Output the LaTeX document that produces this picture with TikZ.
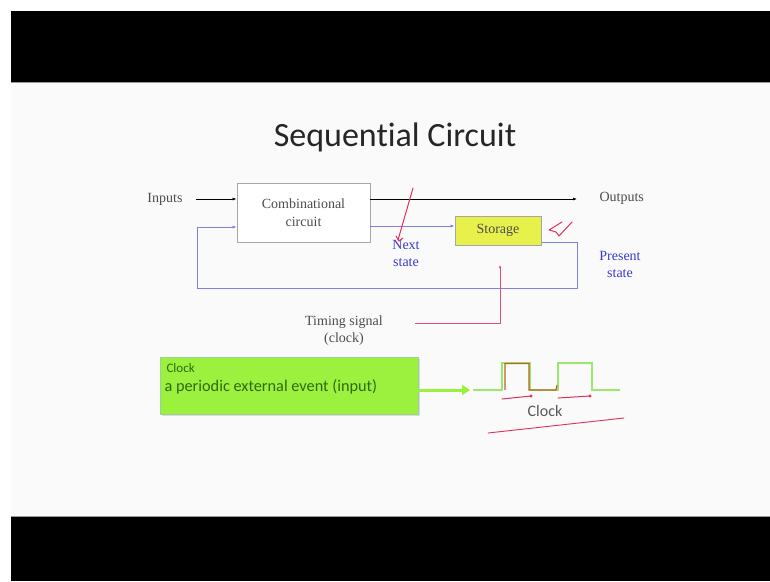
\documentclass[tikz,border=0pt]{standalone}
\usepackage{fontspec}
\setmainfont{Liberation Serif}
\newfontfamily\slidefont[Ligatures=NoCommon]{Carlito}
\usetikzlibrary{arrows.meta,shadows}
\definecolor{slidebg}{HTML}{FAFAFA}
\definecolor{loopblue}{HTML}{7F7FE0}
\definecolor{labelblue}{HTML}{3A3AD0}
\definecolor{penred}{HTML}{E0305A}
\definecolor{storefill}{HTML}{E8F04C}
\definecolor{clockgreen}{HTML}{9CF03E}
\definecolor{wavegreen}{HTML}{9BE86A}
\definecolor{textgreen}{HTML}{2E6B10}
\definecolor{brownpen}{HTML}{B8642A}
\tikzset{
  blk/.style={draw=gray!70, line width=0.8pt, minimum width=133pt, minimum height=59pt,
    fill=white, align=center, font=\fontsize{14}{18}\selectfont, text=black!70},
  storebox/.style={draw=gray!70, line width=1pt, fill=storefill, minimum width=86pt,
    minimum height=29pt, font=\fontsize{14}{16}\selectfont, text=black!70},
  lbl/.style={font=\fontsize{14}{17}\selectfont, text=black!70, align=center},
  bluelbl/.style={font=\fontsize{14}{17}\selectfont, text=labelblue, align=center},
  sig/.style={line width=0.7pt, -{Latex[length=4pt,width=3pt]}},
  loopline/.style={loopblue, line width=1pt},
  pen/.style={penred, line width=1pt, line cap=round, line join=round},
}
\begin{document}
\begin{tikzpicture}[x=1pt,y=-1pt]
\useasboundingbox (0,0) rectangle (770,581);
% frame of the video still
\fill[white] (0,0) rectangle (770,581);
\fill[slidebg] (11,82) rectangle (770,516);
\fill[black] (11,11) rectangle (770,82);
\fill[black] (11,516) rectangle (770,581);
\draw[gray!80, line width=0.8pt] (11,82) -- (770,82);
\draw[gray!80, line width=0.8pt] (11,516) -- (770,516);

% title
\node[font=\slidefont\fontsize{34}{40}\selectfont, text=black!85] (title) at (395,137) {Sequential Circuit};

% blocks
\node[blk] (comb) at (303.5,212.5) {Combinational\\circuit};
\node[storebox] (store) at (498,230.5) {Storage};

% inputs and outputs
\node[lbl, anchor=east] (inp) at (186,199) {Inputs};
\node[lbl, anchor=west] (outp) at (596,198) {Outputs};
\coordinate (inStart) at (196,199);
\coordinate (outEnd) at (577,199);
\draw[sig] (inStart) -- (comb.west |- inStart);
\draw[sig] (comb.east |- outEnd) -- (outEnd);

% next state into storage
\draw[loopline, sig] (comb.east |- 0,226) -- (store.west |- 0,226);
\node[bluelbl] (next) at (406,253) {Next\\state};

% present state fed back
\coordinate (fbR) at (577,242);
\coordinate (fbBR) at (577,288);
\coordinate (fbBL) at (197,288);
\coordinate (fbTL) at (197,227);
\draw[loopline] (store.east |- fbR) -- (fbR) -- (fbBR) -- (fbBL) -- (fbTL);
\draw[loopline, sig] (fbTL) -- (comb.west |- fbTL);
\node[bluelbl] (pres) at (620,264) {Present\\state};

% timing signal
\node[lbl] (timing) at (344,331) {Timing signal\\(clock)};
\coordinate (tA) at (415,323);
\coordinate (tB) at (500,323);
\coordinate (tC) at (500,265);
\draw[penred!85, line width=0.9pt, -{Latex[length=3pt,width=2.5pt]}] (tA) -- (tB) -- (tC);

% clock box
\node[draw=green!55!black!40, fill=clockgreen, minimum width=258pt, minimum height=57pt,
      drop shadow={opacity=0.25, shadow xshift=1.5pt, shadow yshift=-1.5pt}] (clk) at (289,385.5) {};
\node[anchor=west, font=\slidefont\fontsize{13}{15}\selectfont, text=textgreen] (clkT) at (163,368) {Clock};
\node[anchor=west, font=\slidefont\fontsize{16.3}{19}\selectfont, text=textgreen] (clkD) at (161,387) {a periodic external event (input)};
\coordinate (gArr) at (470,390);
\draw[clockgreen, line width=3pt, -{Triangle[length=8pt,width=10pt]}] (clk.east |- gArr) -- (gArr);

% clock waveform
\draw[wavegreen, line width=2pt] (473,390) -- (502,390) -- (502,363) -- (530,363) -- (530,390)
   -- (558,390) -- (558,363) -- (592,363) -- (592,390) -- (620,390);
\draw[brownpen, line width=1.2pt] (505,390) -- (505,363.5) -- (529,363.5) -- (529,390) -- (556,390) -- (557,385);
\node[font=\slidefont\fontsize{16}{18}\selectfont, text=black!65] (clkLbl) at (545,411) {Clock};

% pen annotations
\draw[pen] (413,188) -- (398,240);
\draw[pen] (396,236) -- (399,241) -- (403,238);
\draw[pen] (562,222) -- (549,230) -- (556,232) -- (559,236) -- (572,222);
\draw[pen] (502,399) -- (531,396);
\fill[penred] (531,396) circle (1.6pt);
\draw[pen] (558,398) -- (590,396);
\fill[penred] (590,396) circle (1.6pt);
\draw[pen, line width=0.9pt] (488,433) -- (624,418);
\end{tikzpicture}
\end{document}
